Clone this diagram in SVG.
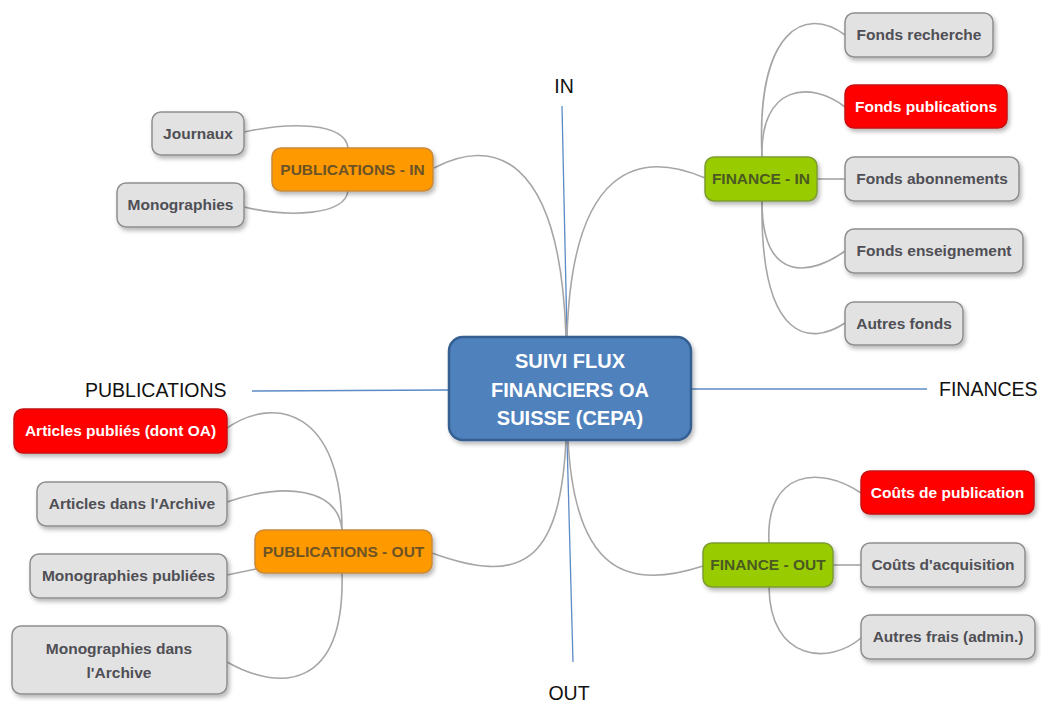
<svg xmlns="http://www.w3.org/2000/svg" width="1041" height="702" viewBox="0 0 1041 702">
<defs>
<filter id="sh" x="-10%" y="-20%" width="130%" height="160%">
<feDropShadow dx="2" dy="3" stdDeviation="2.2" flood-color="#000" flood-opacity="0.28"/>
</filter>
<style>
.axis{stroke:#5b8ac6;stroke-width:1.3;fill:none}
.ax{font-family:"Liberation Sans",Arial,sans-serif;font-size:19.5px;fill:#111}
.con{stroke:#a6a6a6;stroke-width:1.6;fill:none}
.n{stroke-width:1.5;filter:url(#sh)}
.gray{fill:#e2e2e2;stroke:#8f8f8f}
.red{fill:#ff0000;stroke:#c81010}
.orange{fill:#ff9900;stroke:#c98a3a}
.green{fill:#99cc00;stroke:#7c9c30}
.t{font-family:"Liberation Sans",Arial,sans-serif;font-size:15.5px;font-weight:bold;text-anchor:middle}
.tg{fill:#4f4f55}
.tw{fill:#ffffff}
.to{fill:#6b5326}
.tgr{fill:#4b5a22}
.tc{font-family:"Liberation Sans",Arial,sans-serif;font-size:20px;font-weight:bold;text-anchor:middle;fill:#fff}
</style>
</defs>
<rect width="1041" height="702" fill="#fff"/>
<g id="axes">
<line class="axis" x1="562" y1="106" x2="567" y2="337"/>
<line class="axis" x1="567" y1="440" x2="573" y2="662"/>
<line class="axis" x1="252" y1="391" x2="449" y2="390"/>
<line class="axis" x1="691" y1="389" x2="927" y2="389"/>
<text class="ax" x="564" y="93" text-anchor="middle">IN</text>
<text class="ax" x="569" y="700" text-anchor="middle">OUT</text>
<text class="ax" x="85" y="397">PUBLICATIONS</text>
<text class="ax" x="939" y="396">FINANCES</text>
</g>
<g id="connectors">
<path class="con" d="M434,168 C490,138 560,150 566,337"/>
<path class="con" d="M567,337 C572,165 640,150 705,178"/>
<path class="con" d="M566,440 C560,565 520,585 432,553"/>
<path class="con" d="M568,440 C575,575 630,590 703,566"/>
<path class="con" d="M244,132 C290,122 345,122 348,148"/>
<path class="con" d="M244,207 C290,218 345,215 348,191"/>
<path class="con" d="M762,157 C756,30 805,5 845,35"/>
<path class="con" d="M762,157 C760,85 810,80 845,107"/>
<path class="con" d="M817,179 L845,179"/>
<path class="con" d="M762,201 C762,285 812,275 845,251"/>
<path class="con" d="M762,201 C760,345 812,345 845,323"/>
<path class="con" d="M342,530 C342,410 275,395 227,428"/>
<path class="con" d="M342,530 C338,488 285,482 227,502"/>
<path class="con" d="M227,575 L256,569"/>
<path class="con" d="M342,573 C345,690 280,692 227,662"/>
<path class="con" d="M769,543 C765,470 820,465 861,493"/>
<path class="con" d="M833,565 L861,565"/>
<path class="con" d="M769,587 C770,662 830,665 861,638"/>
</g>
<g id="center">
<rect x="449" y="337" width="242" height="103" rx="14" fill="#4f81bd" stroke="#365f91" stroke-width="2.5" filter="url(#sh)"/>
<text class="tc" x="570" y="368">SUIVI FLUX</text>
<text class="tc" x="570" y="397">FINANCIERS OA</text>
<text class="tc" x="570" y="425">SUISSE (CEPA)</text>
</g>
<g id="pub-in"><rect class="n orange" x="272" y="148" width="161" height="43" rx="9"/><text class="t to" x="352.5" y="175">PUBLICATIONS - IN</text></g>
<g id="journaux"><rect class="n gray" x="152" y="112" width="92" height="43" rx="9"/><text class="t tg" x="198" y="139">Journaux</text></g>
<g id="monographies"><rect class="n gray" x="117" y="183" width="127" height="44" rx="9"/><text class="t tg" x="180.5" y="210">Monographies</text></g>
<g id="finance-in"><rect class="n green" x="705" y="157" width="112" height="44" rx="9"/><text class="t tgr" x="761" y="184">FINANCE - IN</text></g>
<g id="fonds-recherche"><rect class="n gray" x="845" y="13" width="148" height="44" rx="9"/><text class="t tg" x="919" y="40">Fonds recherche</text></g>
<g id="fonds-publications"><rect class="n red" x="845" y="85" width="162" height="43" rx="9"/><text class="t tw" x="926" y="112">Fonds publications</text></g>
<g id="fonds-abonnements"><rect class="n gray" x="845" y="157" width="174" height="44" rx="9"/><text class="t tg" x="932" y="184">Fonds abonnements</text></g>
<g id="fonds-enseignement"><rect class="n gray" x="845" y="229" width="178" height="44" rx="9"/><text class="t tg" x="934" y="256">Fonds enseignement</text></g>
<g id="autres-fonds"><rect class="n gray" x="845" y="302" width="118" height="43" rx="9"/><text class="t tg" x="904" y="329">Autres fonds</text></g>
<g id="pub-out"><rect class="n orange" x="255" y="530" width="177" height="43" rx="9"/><text class="t to" x="343.5" y="557">PUBLICATIONS - OUT</text></g>
<g id="articles-publies"><rect class="n red" x="14" y="409" width="213" height="44" rx="9"/><text class="t tw" x="120.5" y="436">Articles publiés (dont OA)</text></g>
<g id="articles-archive"><rect class="n gray" x="37" y="482" width="190" height="44" rx="9"/><text class="t tg" x="132" y="509">Articles dans l'Archive</text></g>
<g id="monographies-publiees"><rect class="n gray" x="30" y="554" width="197" height="44" rx="9"/><text class="t tg" x="128.5" y="581">Monographies publiées</text></g>
<g id="monographies-archive"><rect class="n gray" x="12" y="626" width="215" height="68" rx="9"/><text class="t tg" x="119" y="654">Monographies dans</text><text class="t tg" x="119" y="678">l'Archive</text></g>
<g id="finance-out"><rect class="n green" x="703" y="543" width="130" height="44" rx="9"/><text class="t tgr" x="768" y="570">FINANCE - OUT</text></g>
<g id="couts-publication"><rect class="n red" x="861" y="471" width="173" height="43" rx="9"/><text class="t tw" x="947.5" y="498">Coûts de publication</text></g>
<g id="couts-acquisition"><rect class="n gray" x="861" y="543" width="164" height="44" rx="9"/><text class="t tg" x="943" y="570">Coûts d'acquisition</text></g>
<g id="autres-frais"><rect class="n gray" x="861" y="615" width="174" height="44" rx="9"/><text class="t tg" x="948" y="642">Autres frais (admin.)</text></g>
</svg>
